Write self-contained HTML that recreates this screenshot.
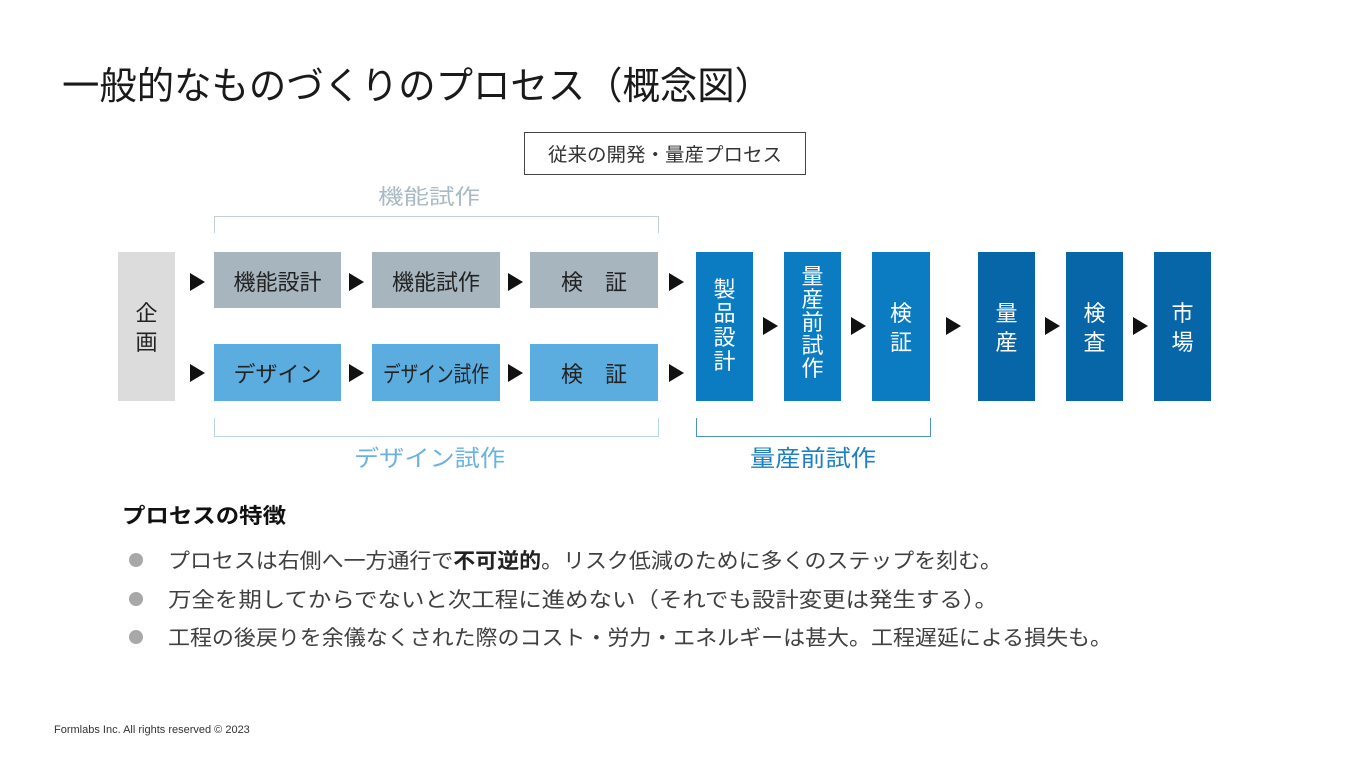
<!DOCTYPE html>
<html><head><meta charset="utf-8"><style>
html,body{margin:0;padding:0;background:#fff;}
svg{display:block;font-family:"Liberation Sans","Noto Sans CJK JP",sans-serif;}
</style></head><body>
<svg width="1354" height="762" viewBox="0 0 1354 762" xmlns="http://www.w3.org/2000/svg">
<text x="62" y="99" font-size="38" fill="#1a1a1a" textLength="710" lengthAdjust="spacingAndGlyphs">一般的なものづくりのプロセス（概念図）</text>
<rect x="524.5" y="132.5" width="281" height="42" fill="#fff" stroke="#444" stroke-width="1"/>
<text x="548" y="161" font-size="19" fill="#333" textLength="234" lengthAdjust="spacingAndGlyphs">従来の開発・量産プロセス</text>

<text x="378" y="204" font-size="21" fill="#a9bac5" textLength="102" lengthAdjust="spacingAndGlyphs">機能試作</text>
<path d="M214.5 233 V216.5 H658.5 V233" fill="none" stroke="#c5d0d6" stroke-width="1"/>

<rect x="118" y="252" width="57" height="149" fill="#dcdcdc"/>
<text x="146.5" y="321" font-size="22" fill="#222" text-anchor="middle">企</text>
<text x="146.5" y="350" font-size="22" fill="#222" text-anchor="middle">画</text>

<g fill="#a6b5be">
<rect x="214" y="252" width="127" height="56"/><rect x="372" y="252" width="128" height="56"/><rect x="530" y="252" width="128" height="56"/>
</g>
<g fill="#5bade0">
<rect x="214" y="344" width="127" height="57"/><rect x="372" y="344" width="128" height="57"/><rect x="530" y="344" width="128" height="57"/>
</g>
<g font-size="22" fill="#222">
<text x="277.5" y="290" text-anchor="middle">機能設計</text>
<text x="436" y="290" text-anchor="middle">機能試作</text>
<text x="594" y="290" text-anchor="middle">検　証</text>
<text x="277.5" y="382" text-anchor="middle">デザイン</text>
<text x="436" y="382" text-anchor="middle" textLength="106" lengthAdjust="spacingAndGlyphs">デザイン試作</text>
<text x="594" y="382" text-anchor="middle">検　証</text>
</g>

<g fill="#0b7cc1"><rect x="696" y="252" width="57" height="149"/><rect x="784" y="252" width="57" height="149"/><rect x="872" y="252" width="58" height="149"/></g>
<g fill="#0766a8"><rect x="978" y="252" width="57" height="149"/><rect x="1066" y="252" width="57" height="149"/><rect x="1154" y="252" width="57" height="149"/></g>
<g font-size="22" fill="#fff" text-anchor="middle">
<text x="724.5" y="297">製</text><text x="724.5" y="321">品</text><text x="724.5" y="345">設</text><text x="724.5" y="369">計</text>
<text x="812.5" y="284">量</text><text x="812.5" y="307">産</text><text x="812.5" y="330">前</text><text x="812.5" y="353">試</text><text x="812.5" y="376">作</text>
<text x="901" y="321">検</text><text x="901" y="350">証</text>
<text x="1006.5" y="321">量</text><text x="1006.5" y="350">産</text>
<text x="1094.5" y="321">検</text><text x="1094.5" y="350">査</text>
<text x="1182.5" y="321">市</text><text x="1182.5" y="350">場</text>
</g>

<g fill="#111">
<polygon points="190,273 205,282 190,291"/><polygon points="349,273 364,282 349,291"/><polygon points="508,273 523,282 508,291"/><polygon points="669,273 684,282 669,291"/>
<polygon points="190,364 205,373 190,382"/><polygon points="349,364 364,373 349,382"/><polygon points="508,364 523,373 508,382"/><polygon points="669,364 684,373 669,382"/>
<polygon points="763,317 778,326 763,335"/><polygon points="851,317 866,326 851,335"/><polygon points="946,317 961,326 946,335"/><polygon points="1045,317 1060,326 1045,335"/><polygon points="1133,317 1148,326 1133,335"/>
</g>

<path d="M214.5 418 V436.5 H658.5 V418" fill="none" stroke="#b9d7ea" stroke-width="1"/>
<text x="354" y="466" font-size="23" fill="#6ab2e0" textLength="151" lengthAdjust="spacingAndGlyphs">デザイン試作</text>
<path d="M696.5 418 V436.5 H930.5 V418" fill="none" stroke="#4b93c6" stroke-width="1"/>
<text x="750" y="466" font-size="23" fill="#1f7fc0" textLength="126" lengthAdjust="spacingAndGlyphs">量産前試作</text>

<text x="122" y="523" font-size="21" font-weight="bold" fill="#111" textLength="164" lengthAdjust="spacingAndGlyphs">プロセスの特徴</text>
<g fill="#a8a8a8"><circle cx="136" cy="560" r="7"/><circle cx="136" cy="599" r="7"/><circle cx="136" cy="637" r="7"/></g>
<g font-size="21" fill="#404040">
<text x="168" y="568" textLength="834" lengthAdjust="spacingAndGlyphs">プロセスは右側へ一方通行で<tspan font-weight="bold" fill="#222">不可逆的</tspan>。リスク低減のために多くのステップを刻む。</text>
<text x="168" y="607" textLength="830" lengthAdjust="spacingAndGlyphs">万全を期してからでないと次工程に進めない（それでも設計変更は発生する）。</text>
<text x="168" y="645" textLength="944" lengthAdjust="spacingAndGlyphs">工程の後戻りを余儀なくされた際のコスト・労力・エネルギーは甚大。工程遅延による損失も。</text>
</g>
<text x="54" y="733" font-size="11" fill="#333">Formlabs Inc. All rights reserved © 2023</text>
</svg>
</body></html>
